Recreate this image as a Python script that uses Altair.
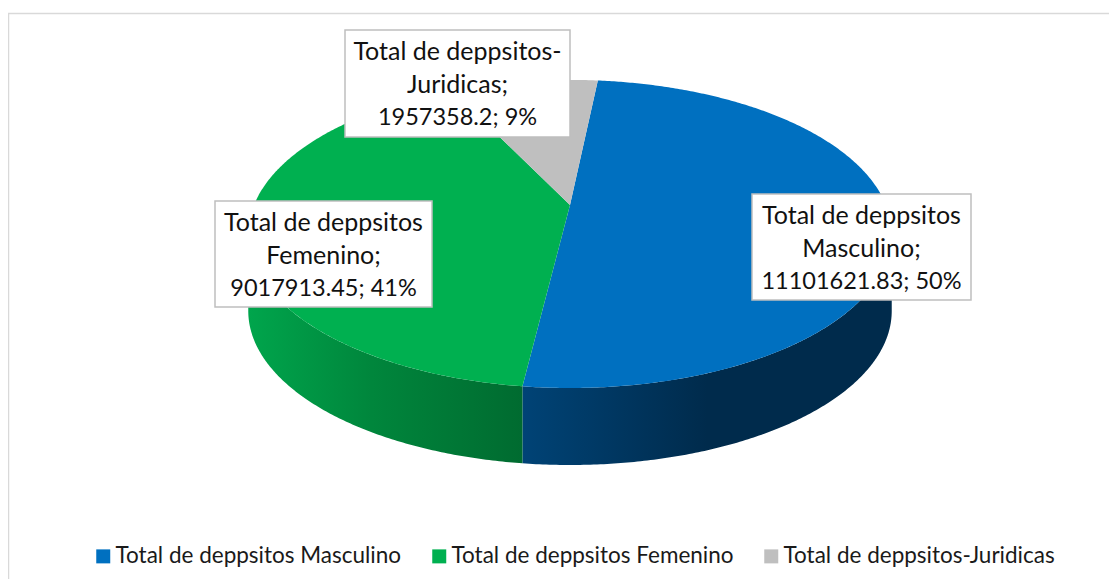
import math
import altair as alt
import pandas as pd

# ---- chart values
names = ["Total de deppsitos Masculino", "Total de deppsitos Femenino", "Total de deppsitos-Juridicas"]
values = [11101621.83, 9017913.45, 1957358.2]
colors = ["#0070c0", "#00b050", "#bfbfbf"]
label_lines = [
    ["Total de deppsitos", "Masculino;", "11101621.83; 50%"],
    ["Total de deppsitos", "Femenino;", "9017913.45; 41%"],
    ["Total de deppsitos-", "Juridicas;", "1957358.2; 9%"],
]
# label boxes: left, right, top, bottom (page pixels)
boxes = [(752, 971, 194, 300), (215, 432, 201, 307), (345, 570, 30, 137)]

# ---- layout of the tilted pie
W, H = 1101, 571
OFF = 8
CX, CY = 570 - OFF, 205 - OFF     # vertex of the pie
A, B, K = 316.0, 148.6, 0.188     # radii and perspective of the tilt
DEPTH = 77
START = 6.0                       # first slice starts here, clockwise from the top


def project(deg):
    t = math.radians(deg)
    d = 1 + K * math.cos(t)
    return CX + A * math.sin(t) / d, CY - B * math.cos(t) / d


total = sum(values)
edges = [START]
for v in values:
    edges.append(edges[-1] + 360 * v / total)

rows = []
for name, a0, a1 in zip(names, edges[:-1], edges[1:]):
    n = max(2, int((a1 - a0) * 2))
    pts = [(CX, CY)] + [project(a0 + (a1 - a0) * i / n) for i in range(n + 1)] + [(CX, CY)]
    for i, (x, y) in enumerate(pts):
        rows.append({"name": name, "x": x, "y": y, "o": i})
slices = pd.DataFrame(rows)


def wall(a0, a1):
    n = int(abs(a1 - a0) * 2)
    out = []
    for i in range(n + 1):
        x, y = project(a0 + (a1 - a0) * i / n)
        out.append({"x": x, "y": y, "y2": y + DEPTH})
    return pd.DataFrame(out)


right_deg = math.degrees(math.acos(-K))
left_deg = 360 - right_deg

sx = alt.Scale(domain=[0, W], range=[0, W], nice=False, zero=False)
sy = alt.Scale(domain=[0, H], range=[0, H], nice=False, zero=False)
X = alt.X("x:Q", scale=sx, axis=None)
Y = alt.Y("y:Q", scale=sy, axis=None)

blue_grad = alt.Gradient(
    gradient="linear", x1=0, x2=1, y1=0, y2=0,
    stops=[alt.GradientStop(offset=0, color="#004376"),
           alt.GradientStop(offset=0.5, color="#002b4c"),
           alt.GradientStop(offset=1, color="#002b4c")],
)
green_grad = alt.Gradient(
    gradient="linear", x1=0, x2=1, y1=0, y2=0,
    stops=[alt.GradientStop(offset=0, color="#00a54c"),
           alt.GradientStop(offset=0.45, color="#00863c"),
           alt.GradientStop(offset=1, color="#006b30")],
)

wall_blue = alt.Chart(wall(right_deg, edges[1])).mark_area(fill=blue_grad).encode(X, Y, y2="y2:Q")
wall_green = alt.Chart(wall(edges[1], left_deg)).mark_area(fill=green_grad).encode(X, Y, y2="y2:Q")

top = alt.Chart(slices).mark_line(strokeWidth=0).encode(
    X, Y, order="o:Q",
    fill=alt.Fill(
        "name:N",
        scale=alt.Scale(domain=names, range=colors),
        legend=alt.Legend(
            title=None, orient="none", direction="horizontal", legendX=84, legendY=537,
            symbolType="square", symbolSize=196, symbolStrokeWidth=0, labelFontSize=22.5,
            labelFont="Lato", labelColor="#1a1a1a", columnPadding=26, labelOffset=1,
            symbolOpacity=1, labelLimit=400,
        ),
    ),
)

box_df = pd.DataFrame([
    {"x": b[0] - OFF, "x2": b[1] - OFF, "y": b[2] - OFF, "y2": b[3] - OFF} for b in boxes
])
box_mark = alt.Chart(box_df).mark_rect(fill="white", stroke="#bfbfbf", strokeWidth=1.5).encode(
    X, x2="x2:Q", y=Y, y2="y2:Q"
)

word_rows, figure_rows = [], []
for b, lines in zip(boxes, label_lines):
    for i, line in enumerate(lines):
        row = {"x": (b[0] + b[1]) / 2 - OFF, "y": b[2] + 22 + 33 * i - OFF, "t": line}
        (figure_rows if i == 2 else word_rows).append(row)
word_text = alt.Chart(pd.DataFrame(word_rows)).mark_text(
    font="Lato", fontSize=25, color="#111111", align="center", baseline="middle"
).encode(X, Y, text="t:N")
figure_text = alt.Chart(pd.DataFrame(figure_rows)).mark_text(
    font="Lato", fontSize=23.5, color="#111111", align="center", baseline="middle"
).encode(X, Y, text="t:N")

border_top = alt.Chart(pd.DataFrame([{"x": 0, "x2": W, "y": 5.5}])).mark_rule(
    color="#d9d9d9", strokeWidth=1.5
).encode(X, x2="x2:Q", y=Y)
border_left = alt.Chart(pd.DataFrame([{"x": 0.5, "y": 5.5, "y2": H}])).mark_rule(
    color="#d9d9d9", strokeWidth=1.5
).encode(X, y=Y, y2="y2:Q")

chart = (
    alt.layer(border_top, border_left, wall_blue, wall_green, top, box_mark, word_text, figure_text)
    .resolve_scale(x="shared", y="shared")
    .properties(width=W, height=H, padding=0, autosize=alt.AutoSizeParams(type="none"))
    .configure_view(stroke=None)
)
chart.save("out.html", embed_options={"renderer": "svg", "actions": False})
